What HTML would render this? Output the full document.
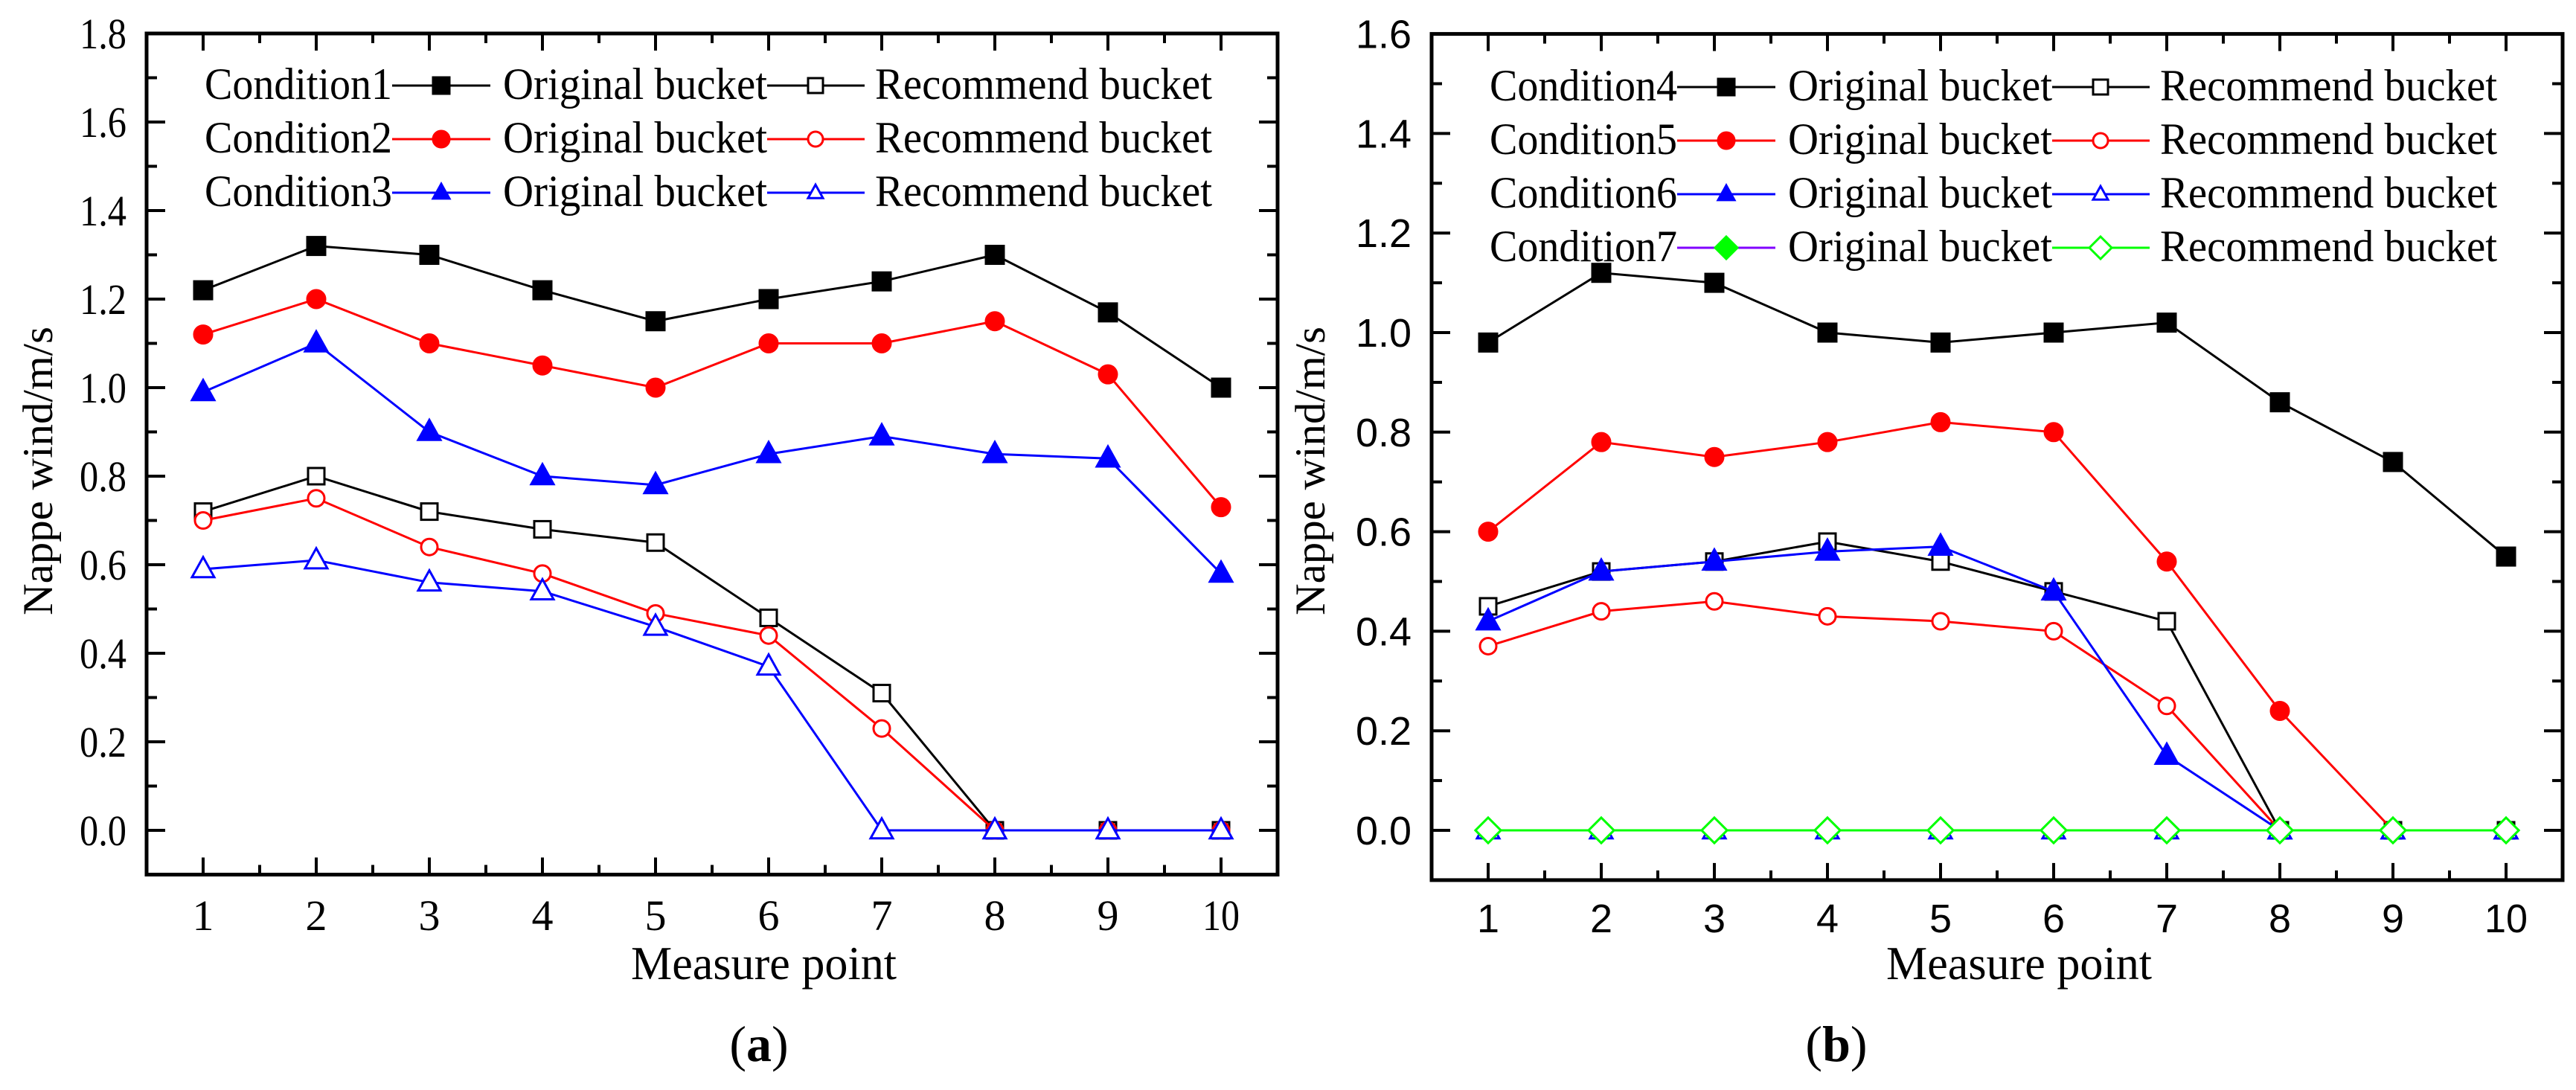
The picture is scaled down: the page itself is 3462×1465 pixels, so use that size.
<!DOCTYPE html>
<html><head><meta charset="utf-8">
<style>html,body{margin:0;padding:0;background:#fff;}svg{display:block;}</style>
</head><body>
<svg id="fig" width="3462" height="1465" viewBox="0 0 3462 1465" xmlns="http://www.w3.org/2000/svg"></svg>
<script>
const categories = [1,2,3,4,5,6,7,8,9,10];
const a_c1_orig = [1.22,1.32,1.30,1.22,1.15,1.20,1.24,1.30,1.17,1.00];
const a_c2_orig = [1.12,1.20,1.10,1.05,1.00,1.10,1.10,1.15,1.03,0.73];
const a_c3_orig = [0.99,1.10,0.90,0.80,0.78,0.85,0.89,0.85,0.84,0.58];
const a_c1_rec = [0.72,0.80,0.72,0.68,0.65,0.48,0.31,0,0,0];
const a_c2_rec = [0.70,0.75,0.64,0.58,0.49,0.44,0.23,0,0,0];
const a_c3_rec = [0.59,0.61,0.56,0.54,0.46,0.37,0,0,0,0];
const b_c4_orig = [0.98,1.12,1.10,1.00,0.98,1.00,1.02,0.86,0.74,0.55];
const b_c5_orig = [0.60,0.78,0.75,0.78,0.82,0.80,0.54,0.24,0,0];
const b_c6_orig = [0.42,0.52,0.54,0.56,0.57,0.48,0.15,0,0,0];
const b_c7_orig = [0,0,0,0,0,0,0,0,0,0];
const b_c4_rec = [0.45,0.52,0.54,0.58,0.54,0.48,0.42,0,0,0];
const b_c5_rec = [0.37,0.44,0.46,0.43,0.42,0.40,0.25,0,0,0];
const b_c6_rec = [0,0,0,0,0,0,0,0,0,0];
const b_c7_rec = [0,0,0,0,0,0,0,0,0,0];
const a_yticks = ["0.0","0.2","0.4","0.6","0.8","1.0","1.2","1.4","1.6","1.8"];
const b_yticks = ["0.0","0.2","0.4","0.6","0.8","1.0","1.2","1.4","1.6"];
const xtickLabels = ["1","2","3","4","5","6","7","8","9","10"];

const NS="http://www.w3.org/2000/svg";
const svg=document.getElementById('fig');
function mk(tag, attrs, parent){const e=document.createElementNS(NS,tag);for(const k in attrs)e.setAttribute(k,attrs[k]);(parent||svg).appendChild(e);return e;}

function marker(g, shape, filled, color, x, y, s){
  let e;
  const fill = filled?color:'#fff';
  if(shape==='square'){e=mk('rect',{x:x-s/2,y:y-s/2,width:s,height:s,fill:fill,stroke:color,'stroke-width':3},g);}
  else if(shape==='circle'){e=mk('circle',{cx:x,cy:y,r:s/2,fill:fill,stroke:color,'stroke-width':3},g);}
  else if(shape==='tri'){const h=s*0.9;e=mk('polygon',{points:`${x},${y-h*0.6} ${x-s/2},${y+h*0.4} ${x+s/2},${y+h*0.4}`,fill:fill,stroke:color,'stroke-width':3,'stroke-linejoin':'miter'},g);}
  else {e=mk('polygon',{points:`${x},${y-s/2} ${x+s/2},${y} ${x},${y+s/2} ${x-s/2},${y}`,fill:fill,stroke:color,'stroke-width':3},g);}
  return e;
}

function panel(cfg){
  const P=mk('g',{});
  
  
  const xS=v=>cfg.x1+(v-1)*152;
  const yS=v=>1116-v*cfg.pp;
  const L=cfg.x1-76, R=cfg.x1+9*152+76, T=yS(cfg.ymax), B=yS(-0.1);
  // ticks
  const tg=mk('g',{stroke:'#000','stroke-width':4},P);
  
  
  for(let i=0;i<categories.length;i++){
    const x=xS(categories[i]);
    mk('line',{x1:x,y1:B,x2:x,y2:B-23},tg); mk('line',{x1:x,y1:T,x2:x,y2:T+23},tg);
    if(i<categories.length){const xm=x+76;if(xm<R-5){mk('line',{x1:xm,y1:B,x2:xm,y2:B-13},tg);mk('line',{x1:xm,y1:T,x2:xm,y2:T+13},tg);}}
    const xm0=x-76; if(i===0){mk('line',{x1:xm0,y1:B,x2:xm0,y2:B-13},tg);}
    const t=mk('text',{x:x,y:cfg.sans?1253:1250,'text-anchor':'middle','font-family':cfg.sans?'"Liberation Sans",sans-serif':'"Liberation Serif",serif','font-size':cfg.sans?54:58,fill:'#000',stroke:'none'},P);
    if(xtickLabels[i].length>1){t.setAttribute('textLength',cfg.sans?58:50);t.setAttribute('lengthAdjust','spacingAndGlyphs');}
    t.textContent=xtickLabels[i];
    
    
  }
  for(let v=-0.1;v<=cfg.ymax+0.001;v+=0.1){
    const y=yS(v); const major=Math.round(v*10)%2===0;
    const len=major?25:14;
    mk('line',{x1:L,y1:y,x2:L+len,y2:y},tg); mk('line',{x1:R,y1:y,x2:R-len,y2:y},tg);
  }
  cfg.yt.forEach((lab,i)=>{
    const y=yS(i*0.2);
    const t=mk('text',{x:L-27,y:y+(cfg.sans?19:20),'text-anchor':'end','font-family':cfg.sans?'"Liberation Sans",sans-serif':'"Liberation Serif",serif','font-size':cfg.sans?54:58,fill:'#000',textLength:cfg.sans?75:63,lengthAdjust:'spacingAndGlyphs'},P);
    t.textContent=lab;
    
    
  });
  // series
  cfg.series.forEach(s=>{
    const g=mk('g',{},P);
    
    
    const pts=s.data.map((v,i)=>xS(categories[i])+','+yS(v)).join(' ');
    mk('polyline',{points:pts,fill:'none',stroke:s.line,'stroke-width':3},g);
    s.data.forEach((v,i)=>{
      const m=marker(g,s.shape,s.filled,s.color,xS(categories[i]),yS(v),s.shape==='diamond'?34:(s.shape==='tri'?30:(s.filled?24:22)));
      
      
    });
  });
  // frame
  const fr=mk('rect',{x:L,y:T,width:R-L,height:B-T,fill:'none',stroke:'#000','stroke-width':5},P);
  
  
  // legend
  const lg=mk('g',{},P);
  
  
  const ox=L-197;
  cfg.legend.forEach((row,ri)=>{
    const y=cfg.ly0+ri*72;
    const t1=mk('text',{x:275+ox,y:y+18,'font-family':'"Liberation Serif",serif','font-size':60,textLength:252,lengthAdjust:'spacingAndGlyphs'},lg);
    t1.textContent=row.label;
    
    
    mk('line',{x1:527+ox,y1:y,x2:659+ox,y2:y,stroke:row.l1,'stroke-width':3},lg);
    marker(lg,row.shape,true,row.c,593+ox,y,row.shape==='diamond'?30:22);
    const t2=mk('text',{x:676+ox,y:y+18,'font-family':'"Liberation Serif",serif','font-size':60,textLength:355,lengthAdjust:'spacingAndGlyphs'},lg);
    t2.textContent='Original bucket';
    
    
    mk('line',{x1:1031+ox,y1:y,x2:1162+ox,y2:y,stroke:row.c,'stroke-width':3},lg);
    marker(lg,row.shape,false,row.c,1096+ox,y,row.shape==='diamond'?30:20);
    const t3=mk('text',{x:1176+ox,y:y+18,'font-family':'"Liberation Serif",serif','font-size':60,textLength:453,lengthAdjust:'spacingAndGlyphs'},lg);
    t3.textContent='Recommend bucket';
    
    
  });
  // titles
  const yt=mk('text',{x:0,y:0,transform:`translate(${cfg.ytx},633) rotate(-90)`,'text-anchor':'middle','font-family':'"Liberation Serif",serif','font-size':57,textLength:388,lengthAdjust:'spacingAndGlyphs',dy:20},P);
  yt.textContent='Nappe wind/m/s';
  
  
  const xt=mk('text',{x:cfg.xtx,y:1316,'font-family':'"Liberation Serif",serif','font-size':64,textLength:357,lengthAdjust:'spacingAndGlyphs'},P);
  xt.textContent='Measure point';
  
  
  const cap=mk('text',{x:cfg.capx,y:1426,'text-anchor':'middle','font-family':'"Liberation Serif",serif','font-size':68},P);
  cap.innerHTML='(<tspan font-weight="bold">'+cfg.cap+'</tspan>)';
  
  
}

panel({name:'panel-a',x1:273,pp:595,ymax:1.8,yt:a_yticks,sans:false,ly0:115,ytx:50,xtx:848,capx:1020,cap:'a',
  series:[
   {id:'condition1-original',data:a_c1_orig,shape:'square',filled:true,color:'#000',line:'#000'},
   {id:'condition2-original',data:a_c2_orig,shape:'circle',filled:true,color:'#f00',line:'#f00'},
   {id:'condition3-original',data:a_c3_orig,shape:'tri',filled:true,color:'#00f',line:'#00f'},
   {id:'condition1-recommend',data:a_c1_rec,shape:'square',filled:false,color:'#000',line:'#000'},
   {id:'condition2-recommend',data:a_c2_rec,shape:'circle',filled:false,color:'#f00',line:'#f00'},
   {id:'condition3-recommend',data:a_c3_rec,shape:'tri',filled:false,color:'#00f',line:'#00f'}],
  legend:[{label:'Condition1',shape:'square',c:'#000',l1:'#000'},{label:'Condition2',shape:'circle',c:'#f00',l1:'#f00'},{label:'Condition3',shape:'tri',c:'#00f',l1:'#00f'}]});

panel({name:'panel-b',x1:2000,pp:669,ymax:1.6,yt:b_yticks,sans:true,ly0:117,ytx:1760,xtx:2535,capx:2468,cap:'b',
  series:[
   {id:'condition4-original',data:b_c4_orig,shape:'square',filled:true,color:'#000',line:'#000'},
   {id:'condition4-recommend',data:b_c4_rec,shape:'square',filled:false,color:'#000',line:'#000'},
   {id:'condition5-original',data:b_c5_orig,shape:'circle',filled:true,color:'#f00',line:'#f00'},
   {id:'condition5-recommend',data:b_c5_rec,shape:'circle',filled:false,color:'#f00',line:'#f00'},
   {id:'condition6-original',data:b_c6_orig,shape:'tri',filled:true,color:'#00f',line:'#00f'},
   {id:'condition6-recommend',data:b_c6_rec,shape:'tri',filled:false,color:'#00f',line:'#00f'},
   {id:'condition7-original',data:b_c7_orig,shape:'diamond',filled:true,color:'#0f0',line:'#8000ff'},
   {id:'condition7-recommend',data:b_c7_rec,shape:'diamond',filled:false,color:'#0f0',line:'#0f0'}],
  legend:[{label:'Condition4',shape:'square',c:'#000',l1:'#000'},{label:'Condition5',shape:'circle',c:'#f00',l1:'#f00'},{label:'Condition6',shape:'tri',c:'#00f',l1:'#00f'},{label:'Condition7',shape:'diamond',c:'#0f0',l1:'#8000ff'}]});
</script>
</body></html>
